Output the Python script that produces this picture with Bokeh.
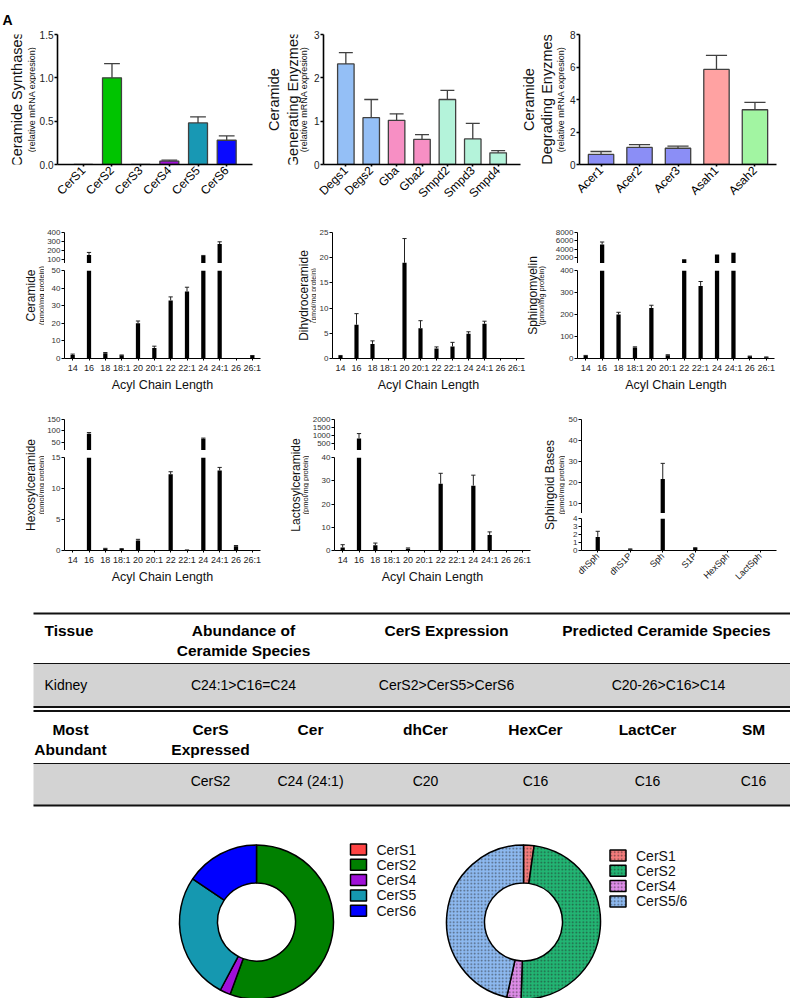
import math
from bokeh.plotting import figure
from bokeh.layouts import row, column
from bokeh.models import Range1d, FixedTicker, NumeralTickFormatter, Label, Title
from bokeh.core.properties import value
from bokeh.embed import file_html
from bokeh.resources import INLINE

FONT = "Liberation Sans"

# ---------------- data ----------------
cers_names = ["CerS1", "CerS2", "CerS3", "CerS4", "CerS5", "CerS6"]
cers_mean = [0.0, 1.00, 0.0, 0.04, 0.48, 0.28]
cers_err = [0.0, 0.165, 0.0, 0.01, 0.07, 0.05]
cers_colors = ["#ff4444", "#00c400", "#888888", "#a010d8", "#1898b4", "#0a0aff"]

gen_names = ["Degs1", "Degs2", "Gba", "Gba2", "Smpd2", "Smpd3", "Smpd4"]
gen_mean = [2.32, 1.08, 1.02, 0.58, 1.50, 0.59, 0.27]
gen_err = [0.26, 0.42, 0.15, 0.11, 0.21, 0.36, 0.05]
gen_colors = ["#94bff6", "#94bff6", "#f78fc4", "#f78fc4", "#b4f3da", "#b4f3da", "#b4f3da"]

deg_names = ["Acer1", "Acer2", "Acer3", "Asah1", "Asah2"]
deg_mean = [0.62, 1.05, 1.00, 5.85, 3.37]
deg_err = [0.18, 0.17, 0.13, 0.87, 0.45]
deg_colors = ["#8b8ef6", "#8b8ef6", "#8b8ef6", "#ffa2a2", "#a2f5a2"]

chain_names = ["14", "16", "18", "18:1", "20", "20:1", "22", "22:1", "24", "24:1", "26", "26:1"]
cer_mean = [2.0, 145, 3.0, 1.8, 20.0, 6.0, 33.0, 38.0, 135, 270, 0.0, 1.5]
cer_err = [0.5, 30, 0.4, 0.2, 1.3, 1.0, 2.0, 2.5, 6, 25, 0.0, 0.2]
dh_mean = [0.5, 6.7, 2.9, 0.1, 19.0, 6.0, 2.0, 2.4, 4.9, 6.9, 0.0, 0.1]
dh_err = [0.1, 2.2, 0.6, 0.0, 4.8, 1.5, 0.3, 0.8, 0.4, 0.5, 0.0, 0.0]
sm_mean = [12, 5100, 200, 50, 230, 15, 1500, 330, 2700, 3100, 10, 6]
sm_err = [2, 600, 10, 3, 12, 2, 0, 20, 0, 0, 1, 1]
hex_mean = [0.0, 88, 0.3, 0.25, 1.6, 0.1, 12.3, 0.15, 66, 12.9, 0.7, 0.1]
hex_err = [0.0, 5, 0.05, 0.05, 0.2, 0.0, 0.4, 0.0, 3, 0.5, 0.1, 0.0]
lac_mean = [1.3, 800, 2.3, 0.0, 0.8, 0.0, 28.7, 0.0, 27.9, 6.7, 0.0, 0.0]
lac_err = [1.2, 310, 0.9, 0.0, 0.3, 0.0, 4.5, 0.0, 4.5, 1.3, 0.0, 0.0]
base_names = ["dhSph", "dhS1P", "Sph", "S1P", "HexSph", "LactSph"]
base_mean = [1.7, 0.15, 21.5, 0.3, 0.05, 0.05]
base_err = [0.7, 0.05, 7.5, 0.05, 0.0, 0.0]

table1_header = ["Tissue", "Abundance of\nCeramide Species", "CerS Expression", "Predicted Ceramide Species"]
table1_row = ["Kidney", "C24:1>C16=C24", "CerS2>CerS5>CerS6", "C20-26>C16>C14"]
table2_header = ["Most\nAbundant", "CerS\nExpressed", "Cer", "dhCer", "HexCer", "LactCer", "SM"]
table2_row = ["", "CerS2", "C24 (24:1)", "C20", "C16", "C16", "C16"]

donut1_names = [n for n in cers_names if n != "CerS3"]
donut1_values = [v for n, v in zip(cers_names, cers_mean) if n != "CerS3"]
donut1_colors = ["#ff4444", "#008000", "#a010d8", "#1598b0", "#0000ff"]
donut2_names = ["CerS1", "CerS2", "CerS4", "CerS5/6"]
donut2_values = [2.2, 48.3, 3.0, 46.5]
donut2_colors = ["#f47c7c", "#22b573", "#de8ce8", "#8db9f0"]


# ---------------- helpers ----------------
def blank(w, h, xr, yr, bt=0, bb=0):
    p = figure(width=w, height=h, x_range=xr, y_range=yr, title=None,
               x_axis_location=None, y_axis_location=None,
               toolbar_location=None, output_backend="svg",
               min_border_left=0, min_border_right=0, min_border_top=bt, min_border_bottom=bb)
    p.outline_line_color = None
    p.xgrid.visible = False
    p.ygrid.visible = False
    return p


def add_text(p, xs, ys, texts, size, style="normal", align="center", baseline="middle",
             angle=0.0, color="black", font=FONT):
    p.text(x=xs, y=ys, text=texts, text_font=value(font), text_font_size=f"{size}px",
           text_font_style=style, text_align=align, text_baseline=baseline, angle=angle,
           text_color=color)


def label_fig(x0, w, ftop, fbot, bt, bb, items, A=False):
    # frame spans image rows ftop..fbot; data coords are image coords (y negated)
    h = bt + (fbot - ftop) + bb
    p = blank(w, h, Range1d(x0, x0 + w), Range1d(-fbot, -ftop), bt=bt, bb=bb)
    for (ix, iy, txt, size) in items:
        p.add_layout(Label(x=ix, y=-iy, text=txt, angle=math.pi / 2, text_align="center",
                           text_baseline="middle", text_font=FONT,
                           text_font_size=f"{size}px", text_color="#111"))
    if A:
        p.add_layout(Title(text="A", align="left", text_font=FONT, text_font_style="bold",
                           text_font_size="14px", text_color="black", standoff=14, offset=2),
                     "above")
    return p


def panel(w, h, bl, br, bt, bb, n, pad, yr, yticks, means, errs, bw, cw, fill,
          bar_line=None, bar_lw=1.0, err_color="black", err_lw=1.0,
          xnames=None, xfs=9, orient=None, xlabel=None, yfs=8, ylw=1.0,
          ycolor="#333", yfmt=None, xcolor="#222"):
    p = figure(width=w, height=h, title=None,
               x_range=Range1d(-0.5 - pad, n - 0.5 + pad), y_range=Range1d(yr[0], yr[1]),
               x_axis_location="below" if xnames else None, y_axis_location="left",
               toolbar_location=None, output_backend="svg",
               min_border_left=bl, min_border_right=br, min_border_top=bt, min_border_bottom=bb)
    p.outline_line_color = None
    p.xgrid.visible = False
    p.ygrid.visible = False
    ya = p.yaxis[0]
    ya.ticker = FixedTicker(ticks=yticks)
    ya.axis_line_width = ylw
    ya.axis_line_color = "black"
    ya.major_tick_line_width = ylw
    ya.major_tick_out = 3
    ya.major_tick_in = 0
    ya.minor_tick_line_color = None
    ya.major_label_standoff = 1
    ya.major_label_text_font = FONT
    ya.major_label_text_font_size = f"{yfs}px"
    ya.major_label_text_color = ycolor
    if yfmt:
        ya.formatter = NumeralTickFormatter(format=yfmt)
    if xnames:
        xa = p.xaxis[0]
        xa.ticker = FixedTicker(ticks=list(range(n)))
        xa.major_label_overrides = {i: nm for i, nm in enumerate(xnames)}
        xa.axis_line_width = ylw
        xa.axis_line_color = "black"
        xa.major_tick_line_width = ylw
        xa.major_tick_out = 2
        xa.major_tick_in = 0
        xa.minor_tick_line_color = None
        xa.major_label_standoff = 2
        xa.major_label_text_font = FONT
        xa.major_label_text_font_size = f"{xfs}px"
        xa.major_label_text_color = xcolor
        if orient:
            xa.major_label_orientation = orient
        if xlabel:
            xa.axis_label = xlabel
            xa.axis_label_text_font = FONT
            xa.axis_label_text_font_size = "12.5px"
            xa.axis_label_text_font_style = "normal"
            xa.axis_label_text_color = "#111"
            xa.axis_label_standoff = 2
    xs = list(range(n))
    p.vbar(x=xs, top=means, bottom=0, width=bw, fill_color=fill,
           line_color=bar_line, line_width=bar_lw)
    ei = [i for i in xs if errs[i] > 0]
    lo = [means[i] for i in ei]
    hi = [means[i] + errs[i] for i in ei]
    p.segment(x0=ei, y0=lo, x1=ei, y1=hi, line_color=err_color, line_width=err_lw)
    p.segment(x0=[i - cw / 2 for i in ei], y0=hi, x1=[i + cw / 2 for i in ei], y1=hi,
              line_color=err_color, line_width=err_lw)
    return p


# ---------------- row 1: mRNA expression ----------------
R1H = 208
top_kw = dict(bt=34, bb=43, ylw=1.6, yfs=10, ycolor="#222", xfs=12, orient=math.pi / 4,
              bar_line="#404040", bar_lw=1.3, err_color="#404040", err_lw=1.3, xcolor="black")
r1 = dict(ftop=34, fbot=165, bt=34, bb=43)

L1 = label_fig(0, 36, items=[(16, 99.5, "Ceramide Synthases", 14.5),
                             (31.5, 99.5, "(relative mRNA expresion)", 9)], A=True, **r1)
F1 = panel(226, R1H, 19, 10, n=6, pad=0.4, yr=(0, 1.5), yticks=[0, 0.5, 1.0, 1.5],
           means=cers_mean, errs=cers_err, bw=0.66, cw=0.55, fill=cers_colors,
           xnames=cers_names, yfmt="0.0", **top_kw)
L2 = label_fig(262, 48, items=[(273, 99.5, "Ceramide", 14.5),
                               (292, 99.5, "Generating Enyzmes", 14.5),
                               (303, 99.5, "(relative mRNA expresion)", 9)], **r1)
F2 = panel(212, R1H, 12, 2, n=7, pad=0.38, yr=(0, 3), yticks=[0, 1, 2, 3],
           means=gen_mean, errs=gen_err, bw=0.65, cw=0.55, fill=gen_colors,
           xnames=gen_names, **top_kw)
L3 = label_fig(522, 44, items=[(528, 99.5, "Ceramide", 14.5),
                               (546, 99.5, "Degrading Enyzmes", 14.5),
                               (560, 99.5, "(relative mRNA expresion)", 9)], **r1)
F3 = panel(224, R1H, 11, 14, n=5, pad=0.06, yr=(0, 8), yticks=[0, 2, 4, 6, 8],
           means=deg_mean, errs=deg_err, bw=0.66, cw=0.55, fill=deg_colors,
           xnames=deg_names, **top_kw)
row1 = row(L1, F1, L2, F2, L3, F3)

# ---------------- row 2: lipids ----------------
R2H = 186
r2 = dict(ftop=232, fbot=363, bt=24, bb=31)
blk = dict(fill="black", err_color="#222", err_lw=1.0)
L4 = label_fig(0, 44, items=[(30, 297.5, "Ceramide", 12), (40.5, 297.5, "(pmol/mg protein)", 7.5)], **r2)
F4u = panel(218, 55, 19, 2, 24, 0, n=12, pad=0, yr=(50, 400), yticks=[100, 200, 300, 400],
            means=cer_mean, errs=cer_err, bw=0.26, cw=0.26, **blk)
F4l = panel(218, 131, 19, 2, 7, 31, n=12, pad=0, yr=(0, 50), yticks=[0, 10, 20, 30, 40, 50],
            means=cer_mean, errs=cer_err, bw=0.26, cw=0.26, xnames=chain_names,
            xlabel="Acyl Chain Length", **blk)
L5 = label_fig(262, 54, items=[(303, 297.5, "Dihydroceramide", 12), (313, 297.5, "(pmol/mg protein)", 7)], **r2)
F5 = panel(210, R2H, 14, 2, 24, 31, n=12, pad=0, yr=(0, 25), yticks=[0, 5, 10, 15, 20, 25],
           means=dh_mean, errs=dh_err, bw=0.26, cw=0.26, xnames=chain_names,
           xlabel="Acyl Chain Length", **blk)
L6 = label_fig(526, 24, items=[(532, 297.5, "Sphingomyelin", 12), (541, 297.5, "(pmol/mg protein)", 7.5)], **r2)
F6u = panel(240, 55, 27, 16, 24, 0, n=12, pad=0, yr=(500, 8000), yticks=[2000, 4000, 6000, 8000],
            means=sm_mean, errs=sm_err, bw=0.26, cw=0.26, **blk)
F6l = panel(240, 131, 27, 16, 7, 31, n=12, pad=0, yr=(0, 400), yticks=[0, 100, 200, 300, 400],
            means=sm_mean, errs=sm_err, bw=0.26, cw=0.26, xnames=chain_names,
            xlabel="Acyl Chain Length", **blk)
row2 = row(L4, column(F4u, F4l), L5, F5, L6, column(F6u, F6l))

# ---------------- row 3 ----------------
r3 = dict(ftop=419, fbot=550, bt=25, bb=46)
L7 = label_fig(0, 44, items=[(30, 484.5, "Hexosylceramide", 12), (40.5, 484.5, "(pmol/mg protein)", 7.5)], **r3)
F7u = panel(218, 56, 20, 2, 25, 0, n=12, pad=0, yr=(15, 150), yticks=[50, 100, 150],
            means=hex_mean, errs=hex_err, bw=0.26, cw=0.26, **blk)
F7l = panel(218, 146, 20, 2, 7, 46, n=12, pad=0, yr=(0, 15), yticks=[0, 5, 10, 15],
            means=hex_mean, errs=hex_err, bw=0.26, cw=0.26, xnames=chain_names,
            xlabel="Acyl Chain Length", **blk)
L8 = label_fig(262, 47, items=[(295, 484.5, "Lactosylceramide", 12), (305, 484.5, "(pmol/mg protein)", 7.5)], **r3)
F8u = panel(223, 56, 22, 2, 25, 0, n=12, pad=0, yr=(40, 2000), yticks=[500, 1000, 1500, 2000],
            means=lac_mean, errs=lac_err, bw=0.26, cw=0.26, **blk)
F8l = panel(223, 146, 22, 2, 7, 46, n=12, pad=0, yr=(0, 40), yticks=[0, 10, 20, 30, 40],
            means=lac_mean, errs=lac_err, bw=0.26, cw=0.26, xnames=chain_names,
            xlabel="Acyl Chain Length", **blk)
L9 = label_fig(532, 33, items=[(549, 484.5, "Sphingoid Bases", 12), (561, 484.5, "(pmol/mg protein)", 7.5)], **r3)
F9u = panel(225, 119, 13, 14, 25, 0, n=6, pad=0, yr=(5, 50), yticks=[10, 20, 30, 40, 50],
            means=base_mean, errs=base_err, bw=0.13, cw=0.13, **blk)
F9l = panel(225, 83, 13, 14, 5, 46, n=6, pad=0, yr=(0, 4), yticks=[0, 1, 2, 3, 4],
            means=base_mean, errs=base_err, bw=0.13, cw=0.13, xnames=base_names,
            orient=math.pi / 4, xcolor="#111", **blk)
row3 = row(L7, column(F7u, F7l), L8, column(F8u, F8l), L9, column(F9u, F9l))

# ---------------- tables ----------------
TW, TH = 790, 212
tp = blank(TW, TH, Range1d(0, TW), Range1d(TH, 0))
tp.quad(left=[33, 33], right=[TW, TW], top=[67, 167], bottom=[111, 209],
        fill_color="#d3d3d3", line_color=None)
tp.segment(x0=[33] * 6, x1=[TW] * 6, y0=[17, 67, 110.5, 114.5, 167, 209],
           y1=[17, 67, 110.5, 114.5, 167, 209], line_color="#111",
           line_width=[2, 1.2, 1.8, 1.8, 1.2, 2])
t1x = [44, 243, 446, 666]
t1al = ["left", "center", "center", "center"]
for x, txt, al in zip(t1x, table1_header, t1al):
    for k, line in enumerate(txt.split("\n")):
        add_text(tp, [x], [34 + 20 * k], [line], 15.5, style="bold", align=al)
for x, txt, al in zip([44, 243, 446, 668], table1_row, t1al):
    add_text(tp, [x], [88], [txt], 14, align=al)
t2x = [70, 210, 310, 425, 535, 647, 753]
for x, txt in zip(t2x, table2_header):
    for k, line in enumerate(txt.split("\n")):
        add_text(tp, [x], [133 + 20 * k], [line], 15.5, style="bold")
for x, txt in zip(t2x, table2_row):
    if txt:
        add_text(tp, [x], [184], [txt], 14)

# ---------------- donuts ----------------
DY, DW, DH = 808, 790, 190
dp = blank(DW, DH, Range1d(0, DW), Range1d(0, DH))
BOT = DY + DH


def donut(p, cx, cy, vals, colors, hatch=False):
    tot = float(sum(vals))
    cum = 0.0
    st, en, cl = [], [], []
    for v, c in zip(vals, colors):
        s = cum / tot
        cum += v
        e = cum / tot
        if v > 0:
            st.append(math.pi / 2 - 2 * math.pi * e)
            en.append(math.pi / 2 - 2 * math.pi * s)
            cl.append(c)
    kw = dict(hatch_pattern="dot", hatch_color="#222", hatch_scale=3.5,
              hatch_alpha=0.6, hatch_weight=1) if hatch else {}
    p.annular_wedge(x=cx, y=cy, inner_radius=39, outer_radius=77,
                    inner_radius_units="screen", outer_radius_units="screen",
                    start_angle=st, end_angle=en, direction="anticlock",
                    fill_color=cl, line_color="black", line_width=1.5, **kw)


def legend(p, bx, ty, names, colors, hatch=False):
    ys = [ty - 15.3 * i for i in range(len(names))]
    kw = dict(hatch_pattern="dot", hatch_color="#222", hatch_scale=3.5,
              hatch_alpha=0.6, hatch_weight=1) if hatch else {}
    p.rect(x=[bx] * len(names), y=ys, width=16, height=11, width_units="screen",
           height_units="screen", fill_color=colors, line_color="black", line_width=1.5, **kw)
    add_text(p, [bx + 18] * len(names), ys, names, 14, align="left", color="#111")


donut(dp, 256, BOT - 921.5, donut1_values, donut1_colors)
legend(dp, 358, BOT - 849, donut1_names, donut1_colors)
donut(dp, 523, BOT - 921.5, donut2_values, donut2_colors, hatch=True)
legend(dp, 617.5, BOT - 855, donut2_names, donut2_colors, hatch=True)

page = column(row1, row2, row3, tp, dp)
open("out.html", "w").write(file_html(page, INLINE))
